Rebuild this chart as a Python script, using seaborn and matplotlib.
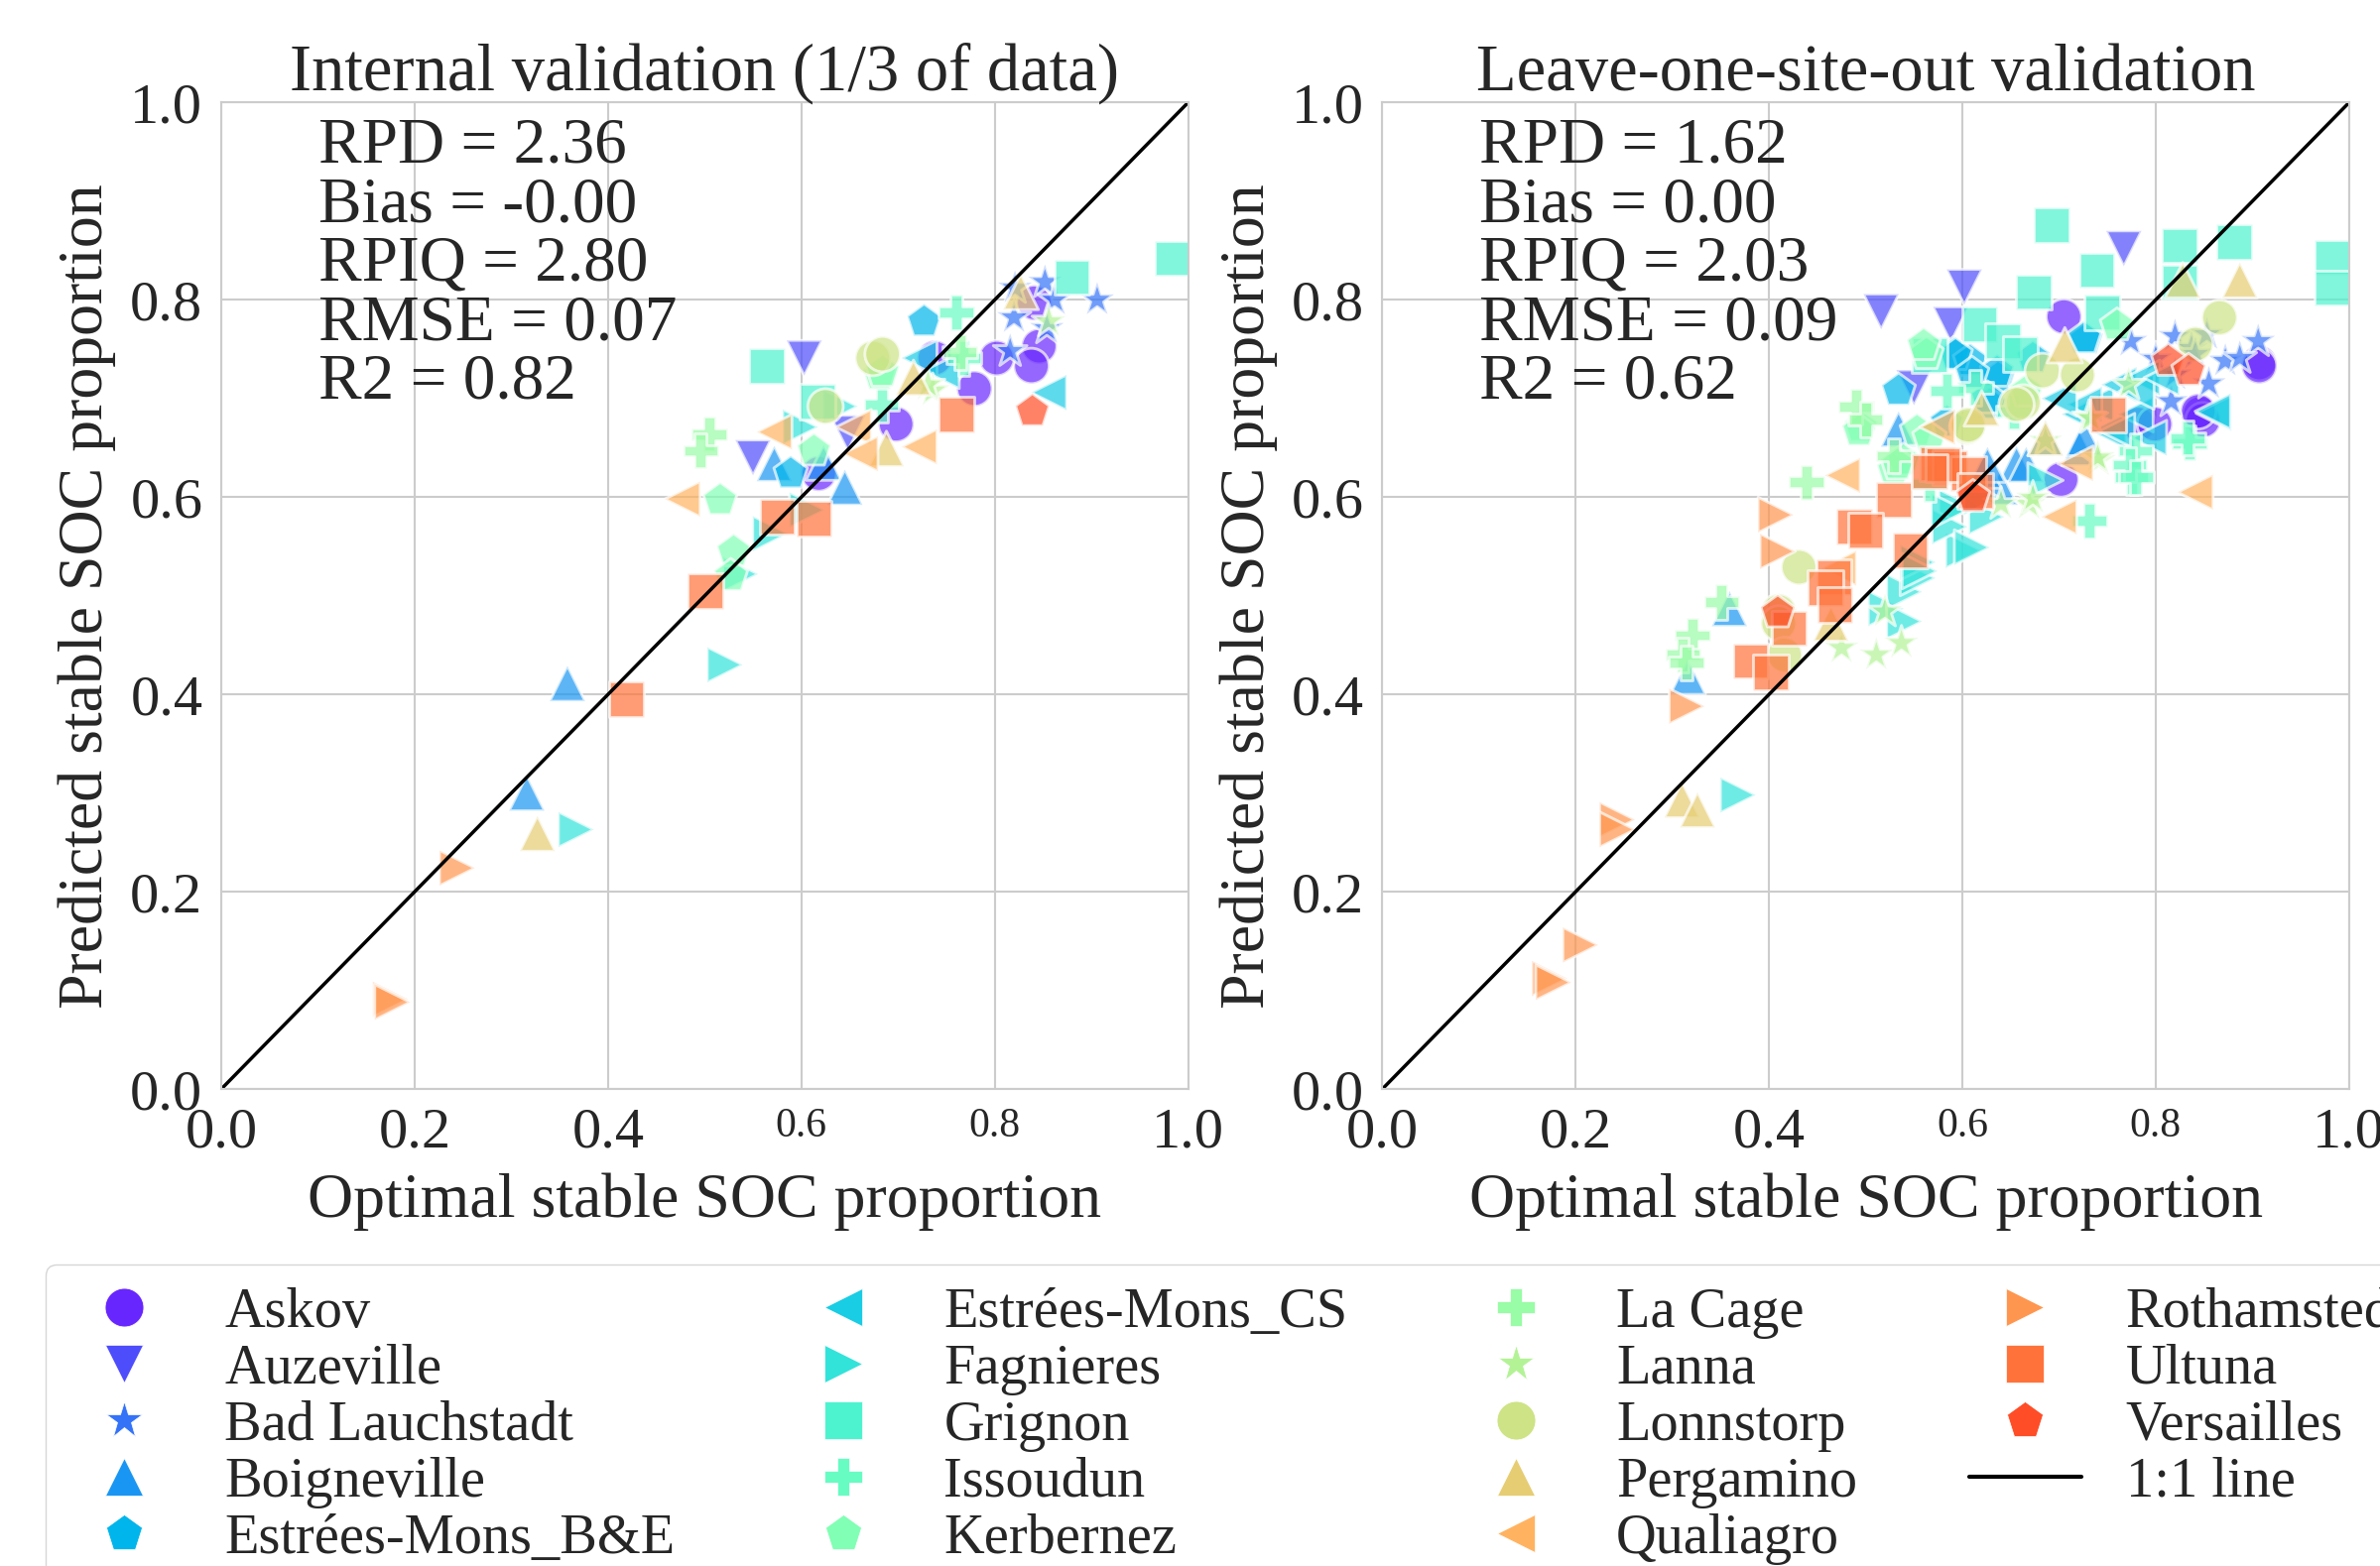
import numpy as np
import pandas as pd
import matplotlib
matplotlib.use('Agg')
import matplotlib.pyplot as plt
from matplotlib.lines import Line2D
import seaborn as sns

sites = ['Askov', 'Auzeville', 'Bad Lauchstadt', 'Boigneville', 'Estrées-Mons_B&E',
         'Estrées-Mons_CS', 'Fagnieres', 'Grignon', 'Issoudun', 'Kerbernez',
         'La Cage', 'Lanna', 'Lonnstorp', 'Pergamino', 'Qualiagro',
         'Rothamsted', 'Ultuna', 'Versailles']
site_markers = ['o', 'v', '*', '^', 'p', '<', '>', 's', 'P', 'p',
                'P', '*', 'o', '^', '<', '>', 's', 'p']

# internal validation (1/3 of data) -- number of points per site, then optimal / predicted
int_n = [8, 3, 7, 5, 2, 3, 7, 4, 3, 6, 3, 3, 3, 4, 5, 3, 5, 1]
int_obs = [0.841, 0.846, 0.838, 0.802, 0.779, 0.738, 0.698, 0.618,
           0.603, 0.550, 0.648,
           0.906, 0.852, 0.862, 0.820, 0.821, 0.816, 0.854,
           0.572, 0.623, 0.645, 0.358, 0.316,
           0.727, 0.589,
           0.722, 0.856, 0.745,
           0.599, 0.640, 0.606, 0.568, 0.537, 0.521, 0.367,
           0.564, 0.617, 0.880, 0.984,
           0.760, 0.683, 0.768,
           0.681, 0.613, 0.516, 0.530, 0.527, 0.684,
           0.505, 0.496, 0.764,
           0.736, 0.731, 0.856,
           0.625, 0.674, 0.684,
           0.716, 0.688, 0.827, 0.327,
           0.572, 0.654, 0.661, 0.722, 0.477,
           0.244, 0.175, 0.177,
           0.760, 0.575, 0.613, 0.501, 0.419,
           0.839]
int_pred = [0.797, 0.753, 0.733, 0.741, 0.710, 0.741, 0.674, 0.624,
            0.741, 0.640, 0.665,
            0.800, 0.818, 0.800, 0.782, 0.812, 0.748, 0.771,
            0.634, 0.635, 0.610, 0.411, 0.300,
            0.778, 0.624,
            0.741, 0.706, 0.728,
            0.671, 0.692, 0.587, 0.563, 0.522, 0.430, 0.263,
            0.733, 0.697, 0.823, 0.842,
            0.787, 0.694, 0.741,
            0.724, 0.647, 0.597, 0.545, 0.520, 0.727,
            0.664, 0.647, 0.747,
            0.708, 0.714, 0.778,
            0.692, 0.741, 0.745,
            0.721, 0.649, 0.808, 0.259,
            0.666, 0.671, 0.644, 0.651, 0.598,
            0.224, 0.091, 0.088,
            0.684, 0.580, 0.578, 0.505, 0.395,
            0.687]

# leave-one-site-out validation
loso_n = [9, 5, 12, 11, 13, 14, 15, 13, 11, 11, 8, 13, 12, 8, 6, 8, 17, 4]
loso_obs = [0.705, 0.907, 0.907, 0.846, 0.849, 0.782, 0.799, 0.702, 0.844,
            0.516, 0.602, 0.588, 0.550, 0.767,
            0.774, 0.820, 0.837, 0.816, 0.820, 0.906, 0.853, 0.841, 0.872, 0.887, 0.855, 0.800,
            0.721, 0.656, 0.534, 0.639, 0.622, 0.626, 0.666, 0.686, 0.726, 0.359, 0.316,
            0.728, 0.591, 0.534, 0.637, 0.608, 0.584, 0.628, 0.593, 0.636, 0.673, 0.726, 0.626, 0.610,
            0.738, 0.762, 0.786, 0.721, 0.751, 0.779, 0.860, 0.726, 0.780, 0.806, 0.859, 0.760, 0.793, 0.700,
            0.686, 0.594, 0.625, 0.601, 0.587, 0.521, 0.540, 0.540, 0.554, 0.554, 0.586, 0.610, 0.556, 0.368, 0.620,
            0.692, 0.739, 0.674, 0.745, 0.825, 0.825, 0.881, 0.983, 0.983, 0.618, 0.642, 0.566, 0.660,
            0.775, 0.731, 0.779, 0.835, 0.613, 0.584, 0.773, 0.833, 0.780, 0.653, 0.566,
            0.563, 0.495, 0.553, 0.529, 0.539, 0.560, 0.493, 0.533, 0.566, 0.760, 0.666,
            0.490, 0.500, 0.439, 0.529, 0.351, 0.321, 0.311, 0.315,
            0.772, 0.731, 0.741, 0.686, 0.669, 0.640, 0.673, 0.733, 0.740, 0.475, 0.511, 0.537, 0.520,
            0.683, 0.719, 0.663, 0.866, 0.841, 0.605, 0.656, 0.606, 0.431, 0.410, 0.410, 0.416,
            0.828, 0.887, 0.686, 0.706, 0.464, 0.310, 0.326, 0.620,
            0.841, 0.700, 0.717, 0.476, 0.574, 0.472,
            0.407, 0.409, 0.315, 0.243, 0.243, 0.205, 0.173, 0.177,
            0.751, 0.574, 0.587, 0.529, 0.488, 0.500, 0.546, 0.606, 0.467, 0.458, 0.468, 0.421, 0.381, 0.402, 0.580, 0.566, 0.613,
            0.813, 0.834, 0.611, 0.409]
loso_pred = [0.783, 0.736, 0.733, 0.685, 0.678, 0.674, 0.674, 0.618, 0.687,
             0.788, 0.813, 0.775, 0.711, 0.852,
             0.758, 0.763, 0.751, 0.697, 0.724, 0.758, 0.765, 0.745, 0.738, 0.741, 0.715, 0.740,
             0.650, 0.634, 0.669, 0.610, 0.627, 0.633, 0.633, 0.660, 0.660, 0.487, 0.418,
             0.760, 0.745, 0.708, 0.721, 0.738, 0.676, 0.694, 0.744, 0.727, 0.741, 0.761, 0.700, 0.725,
             0.694, 0.714, 0.721, 0.684, 0.667, 0.684, 0.685, 0.694, 0.707, 0.721, 0.687, 0.667, 0.660, 0.700,
             0.617, 0.590, 0.580, 0.546, 0.570, 0.487, 0.504, 0.474, 0.518, 0.534, 0.586, 0.549, 0.525, 0.298, 0.600,
             0.876, 0.830, 0.808, 0.787, 0.855, 0.818, 0.859, 0.843, 0.812, 0.775, 0.758, 0.744, 0.745,
             0.620, 0.576, 0.647, 0.655, 0.711, 0.708, 0.633, 0.660, 0.620, 0.687, 0.613,
             0.745, 0.671, 0.667, 0.627, 0.637, 0.754, 0.667, 0.633, 0.660, 0.774, 0.707,
             0.692, 0.679, 0.615, 0.642, 0.494, 0.460, 0.440, 0.432,
             0.714, 0.681, 0.637, 0.657, 0.593, 0.593, 0.599, 0.680, 0.640, 0.447, 0.440, 0.452, 0.484,
             0.728, 0.724, 0.696, 0.782, 0.755, 0.671, 0.694, 0.673, 0.529, 0.484, 0.472, 0.440,
             0.820, 0.820, 0.660, 0.754, 0.472, 0.293, 0.283, 0.690,
             0.605, 0.580, 0.634, 0.622, 0.671, 0.528,
             0.582, 0.545, 0.388, 0.273, 0.263, 0.146, 0.112, 0.108,
             0.684, 0.634, 0.630, 0.597, 0.570, 0.566, 0.546, 0.624, 0.519, 0.508, 0.491, 0.467, 0.434, 0.422, 0.633, 0.626, 0.606,
             0.738, 0.728, 0.600, 0.483]

int_stats = ['RPD = 2.36', 'Bias = -0.00', 'RPIQ = 2.80', 'RMSE = 0.07', 'R2 = 0.82']
loso_stats = ['RPD = 1.62', 'Bias = 0.00', 'RPIQ = 2.03', 'RMSE = 0.09', 'R2 = 0.62']
ticks = [0.0, 0.2, 0.4, 0.6, 0.8, 1.0]
tick_labels = ['0.0', '0.2', '0.4', '0.6', '0.8', '1.0']

int_df = pd.DataFrame({'site': np.repeat(sites, int_n), 'obs': int_obs, 'pred': int_pred})
loso_df = pd.DataFrame({'site': np.repeat(sites, loso_n), 'obs': loso_obs, 'pred': loso_pred})

sns.set_theme(style='whitegrid')
plt.rcParams['font.family'] = ['Liberation Serif', 'DejaVu Serif']
plt.rcParams['grid.linewidth'] = 1.5
plt.rcParams['axes.linewidth'] = 1.5

# 19 rainbow bins, the sites take the first 18
palette = dict(zip(sites, sns.color_palette('rainbow', len(sites) + 1)))
marker_map = dict(zip(sites, site_markers))

fig, axes = plt.subplots(1, 2, figsize=(23.99, 15.79), dpi=100)
fig.subplots_adjust(left=0.093, right=0.987, bottom=0.3046, top=0.9345, wspace=0.201)

panels = [(axes[0], int_df, 'Internal validation (1/3 of data)', int_stats),
          (axes[1], loso_df, 'Leave-one-site-out validation', loso_stats)]

for ax, df, title, stats in panels:
    sns.scatterplot(data=df, x='obs', y='pred', hue='site', style='site',
                    hue_order=sites, style_order=sites, palette=palette,
                    markers=marker_map, s=660, alpha=0.7, legend=False, ax=ax)
    ax.plot([0, 1], [0, 1], color='black', lw=2.5)
    ax.set_xlim(0, 1)
    ax.set_ylim(0, 1)
    ax.set_xticks(ticks)
    ax.set_xticklabels(tick_labels, fontsize=42)
    for lab in ax.get_xticklabels()[3:5]:
        lab.set_fontsize(30)
    ax.set_yticks(ticks)
    ax.set_yticklabels(tick_labels, fontsize=42)
    ax.tick_params(axis='both', pad=7.5)
    ax.set_title(title, fontsize=48, pad=9)
    ax.set_xlabel('Optimal stable SOC proportion', fontsize=46, labelpad=10)
    ax.set_ylabel('Predicted stable SOC proportion', fontsize=46, labelpad=10)
    ax.text(0.1, 0.985, '\n'.join(stats), transform=ax.transAxes,
            ha='left', va='top', fontsize=47, linespacing=1.0, color='.15')

handles = [Line2D([], [], marker=m, color=palette[s], linestyle='none', markersize=28,
                  markeredgecolor='white', markeredgewidth=0.5)
           for s, m in zip(sites, site_markers)]
handles.append(Line2D([], [], color='black', lw=3))
labels = sites + ['1:1 line']
fig.legend(handles, labels, ncol=4, loc='upper left', fontsize=40.6,
           bbox_to_anchor=(46 / 2399, 1 - 1275 / 1579), bbox_transform=fig.transFigure,
           borderaxespad=0, labelspacing=0.09, borderpad=0.4, handletextpad=0.8,
           columnspacing=2.0)

fig.savefig('out.png', dpi=100)
